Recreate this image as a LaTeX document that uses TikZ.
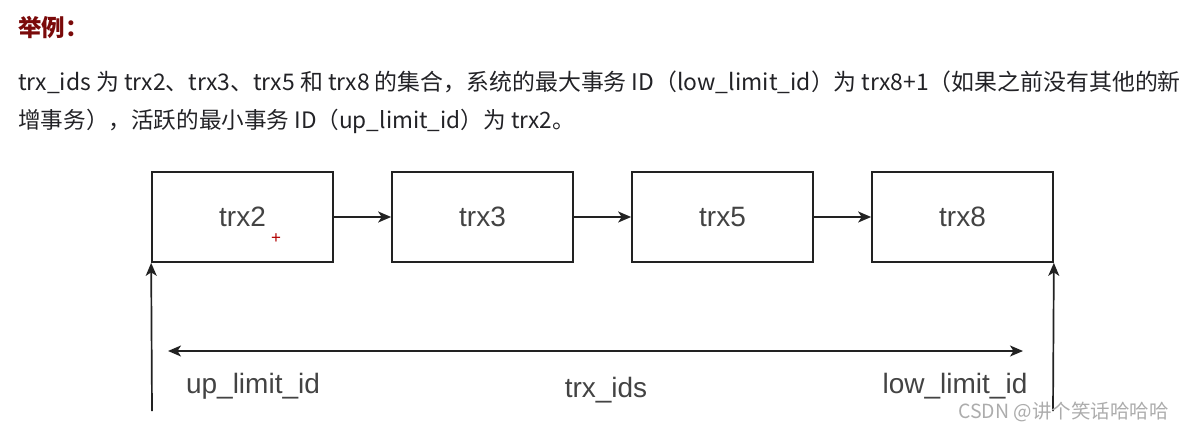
\documentclass[tikz,border=0pt]{standalone}
\usepackage{fontspec}
\setmainfont{Liberation Sans}
\newfontfamily\cjk{Noto Sans CJK SC}
\usetikzlibrary{arrows.meta}
\definecolor{titlered}{HTML}{7A0A0A}
\definecolor{txt}{HTML}{222226}
\definecolor{ln}{HTML}{222222}
\tikzset{
  x=1pt,y=-1pt,
  tip/.tip={Stealth[length=13pt,width=11pt,inset=3.5pt]},
  trxbox/.style={draw=ln,line width=1.7pt,minimum width=181pt,minimum height=90pt,inner sep=0pt,font=\fontsize{28}{30}\selectfont,text=ln!85},
  arr/.style={draw=ln,line width=1.7pt,-tip},
  para/.style={anchor=base west,inner sep=0pt,font=\cjk\fontsize{22.6}{26}\selectfont,text=txt},
  lbl/.style={inner sep=0pt,font=\fontsize{28}{30}\selectfont,text=ln!85},
}
\begin{document}
\begin{tikzpicture}
\useasboundingbox (0,0) rectangle (1183,432);
\node[anchor=base west,inner sep=0pt,font=\cjk\bfseries\fontsize{23.5}{26}\selectfont,text=titlered] (title) at (18,36) {举例：};
\node[para,font=\cjk\fontsize{22.9}{26}\selectfont] (line1) at (18,90) {trx\_ids 为 trx2、trx3、trx5 和 trx8 的集合，系统的最大事务 ID（low\_limit\_id）为 trx8+1（如果之前没有其他的新};
\node[para] (line2) at (18,128) {增事务），活跃的最小事务 ID（up\_limit\_id）为 trx2。};

\node[trxbox] (b2) at (242.5,217) {trx2};
\node[trxbox] (b3) at (482.5,217) {trx3};
\node[trxbox] (b5) at (722.5,217) {trx5};
\node[trxbox] (b8) at (962.5,217) {trx8};
\draw[arr] (b2) -- (b3);
\draw[arr] (b3) -- (b5);
\draw[arr] (b5) -- (b8);

\coordinate (lb) at (152,411);
\coordinate (rb) at (1053,411);
\draw[arr] (lb) -- (b2.south west);
\draw[arr] (rb) -- (b8.south east);

\coordinate (dl) at (168,351);
\coordinate (dr) at (1023,351);
\draw[draw=ln,line width=1.7pt,tip-tip] (dl) -- (dr);

\node[lbl] (up) at (253,386) {up\_limit\_id};
\node[lbl] (ids) at (606,390) {trx\_ids};
\node[lbl] (low) at (955,386) {low\_limit\_id};

\node[inner sep=0pt,text=red!70!black,font=\fontsize{17}{17}\selectfont] (cur) at (276,239) {+};
\node[anchor=east,inner sep=0pt,text=gray!65,font=\cjk\fontsize{19.5}{22}\selectfont] (wm) at (1169,412) {CSDN @讲个笑话哈哈哈};
\end{tikzpicture}
\end{document}
